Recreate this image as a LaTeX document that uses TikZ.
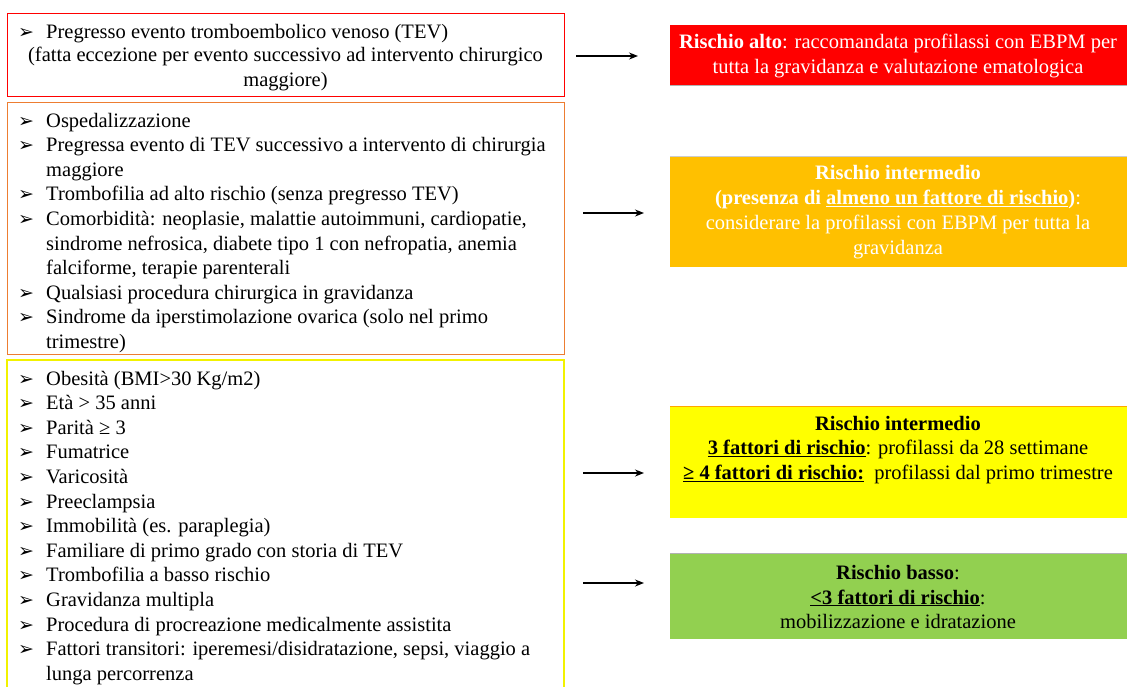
\documentclass[tikz,border=0pt]{standalone}
\usepackage{fontspec}
\setmainfont{Liberation Serif}
\newfontfamily\symfont{DejaVu Sans}
\usetikzlibrary{arrows.meta}
\definecolor{cRed}{HTML}{FF0000}
\definecolor{cOrangeLine}{HTML}{ED7D31}
\definecolor{cYellowLine}{HTML}{F2F200}
\definecolor{cOrange}{HTML}{FFC000}
\definecolor{cYellow}{HTML}{FFFF00}
\definecolor{cGreen}{HTML}{92D050}
\newcommand{\blt}{\makebox[28pt][l]{\raisebox{0pt}{\symfont\fontsize{19}{19}\selectfont ➢}}}
\newcommand{\cnt}{\makebox[28pt]{}}
\tikzset{
  lbox/.style={draw=#1, line width=1.1pt, inner sep=0pt, anchor=north west},
  rbox/.style={fill=#1, draw=none, inner sep=0pt, anchor=north west},
  ltext/.style={anchor=base west, align=left, inner sep=0pt, font=\fontsize{20.5}{24.6}\selectfont},
  rtext/.style={align=center, inner sep=0pt, font=\fontsize{20.5}{24.8}\selectfont},
  arr/.style={-{Stealth[length=9pt,width=7pt]}, line width=1.4pt}
}
\begin{document}
\begin{tikzpicture}[x=1pt,y=-1pt]
\useasboundingbox (0,0) rectangle (1127,686);
% left boxes
\node[lbox=cRed, minimum width=557pt, minimum height=83pt] (b1) at (7,13) {};
\node[lbox=cOrangeLine, minimum width=557pt, minimum height=252pt] (b2) at (7,102) {};
\draw[cYellowLine, line width=1.6pt] (7,700) -- (7,360) -- (564,360) -- (564,700);
\coordinate (b3) at (7,360);

% anchors are at the baseline of the last line
\node[ltext] (t1) at (18,38) {\blt Pregresso evento tromboembolico venoso (TEV)};
\node[rtext, anchor=base] (t1b) at (285.5,86.6) {(fatta eccezione per evento successivo ad intervento chirurgico\\maggiore)};

\node[ltext] (t2) at (18,348.4) {\blt Ospedalizzazione\\
\blt Pregressa evento di TEV successivo a intervento di chirurgia\\
\cnt maggiore\\
\blt Trombofilia ad alto rischio (senza pregresso TEV)\\
\blt Comorbidità: neoplasie, malattie autoimmuni, cardiopatie,\\
\cnt sindrome nefrosica, diabete tipo 1 con nefropatia, anemia\\
\cnt falciforme, terapie parenterali\\
\blt Qualsiasi procedura chirurgica in gravidanza\\
\blt Sindrome da iperstimolazione ovarica (solo nel primo\\
\cnt trimestre)};

\node[ltext] (t3) at (18,680.2) {\blt Obesità (BMI>30 Kg/m2)\\
\blt Età > 35 anni\\
\blt Parità ≥ 3\\
\blt Fumatrice\\
\blt Varicosità\\
\blt Preeclampsia\\
\blt Immobilità (es. paraplegia)\\
\blt Familiare di primo grado con storia di TEV\\
\blt Trombofilia a basso rischio\\
\blt Gravidanza multipla\\
\blt Procedura di procreazione medicalmente assistita\\
\blt Fattori transitori: iperemesi/disidratazione, sepsi, viaggio a\\
\cnt lunga percorrenza};

% right boxes
\node[rbox=cRed, minimum width=457pt, minimum height=60pt] (r1) at (670,25) {};
\node[rbox=cOrange, minimum width=457pt, minimum height=111pt] (r2) at (670,156) {};
\node[rbox=cYellow, minimum width=457pt, minimum height=112pt] (r3) at (670,406) {};
\node[rbox=cGreen, minimum width=457pt, minimum height=86pt] (r4) at (670,553) {};
\draw[orange!70!yellow, line width=0.6pt] (r3.north west) -- (r3.north east);
\draw[gray!60, line width=0.6pt] (r4.north west) -- (r4.north east);
\draw[gray!60, line width=0.6pt] (r1.south west) -- (r1.south east);
\draw[gray!40, line width=0.6pt] (r2.north west) -- (r2.north east);

\node[rtext, text=white] (rt1) at (898,56) {\textbf{Rischio alto}: raccomandata profilassi con EBPM per\\tutta la gravidanza e valutazione ematologica};
\node[rtext, text=white] (rt2) at (898,212) {\textbf{Rischio intermedio}\\\textbf{(presenza di \underline{almeno un fattore di rischio})}:\\considerare la profilassi con EBPM per tutta la\\gravidanza};
\node[rtext] (rt3) at (898,450) {\textbf{Rischio intermedio}\\\underline{\textbf{3 fattori di rischio}}: profilassi da 28 settimane\\\underline{\textbf{≥ 4 fattori di rischio:}}\ \ profilassi dal primo trimestre};
\node[rtext] (rt4) at (898,597) {\textbf{Rischio basso}:\\\underline{\textbf{<3 fattori di rischio}}:\\mobilizzazione e idratazione};

% arrows
\coordinate (a1s) at (576,56); \coordinate (a1e) at (638,56);
\coordinate (a2s) at (583,213); \coordinate (a2e) at (644,213);
\coordinate (a3s) at (583,473); \coordinate (a3e) at (644,473);
\coordinate (a4s) at (583,583); \coordinate (a4e) at (644,583);
\draw[arr] (a1s) -- (a1e);
\draw[arr] (a2s) -- (a2e);
\draw[arr] (a3s) -- (a3e);
\draw[arr] (a4s) -- (a4e);
\end{tikzpicture}
\end{document}
